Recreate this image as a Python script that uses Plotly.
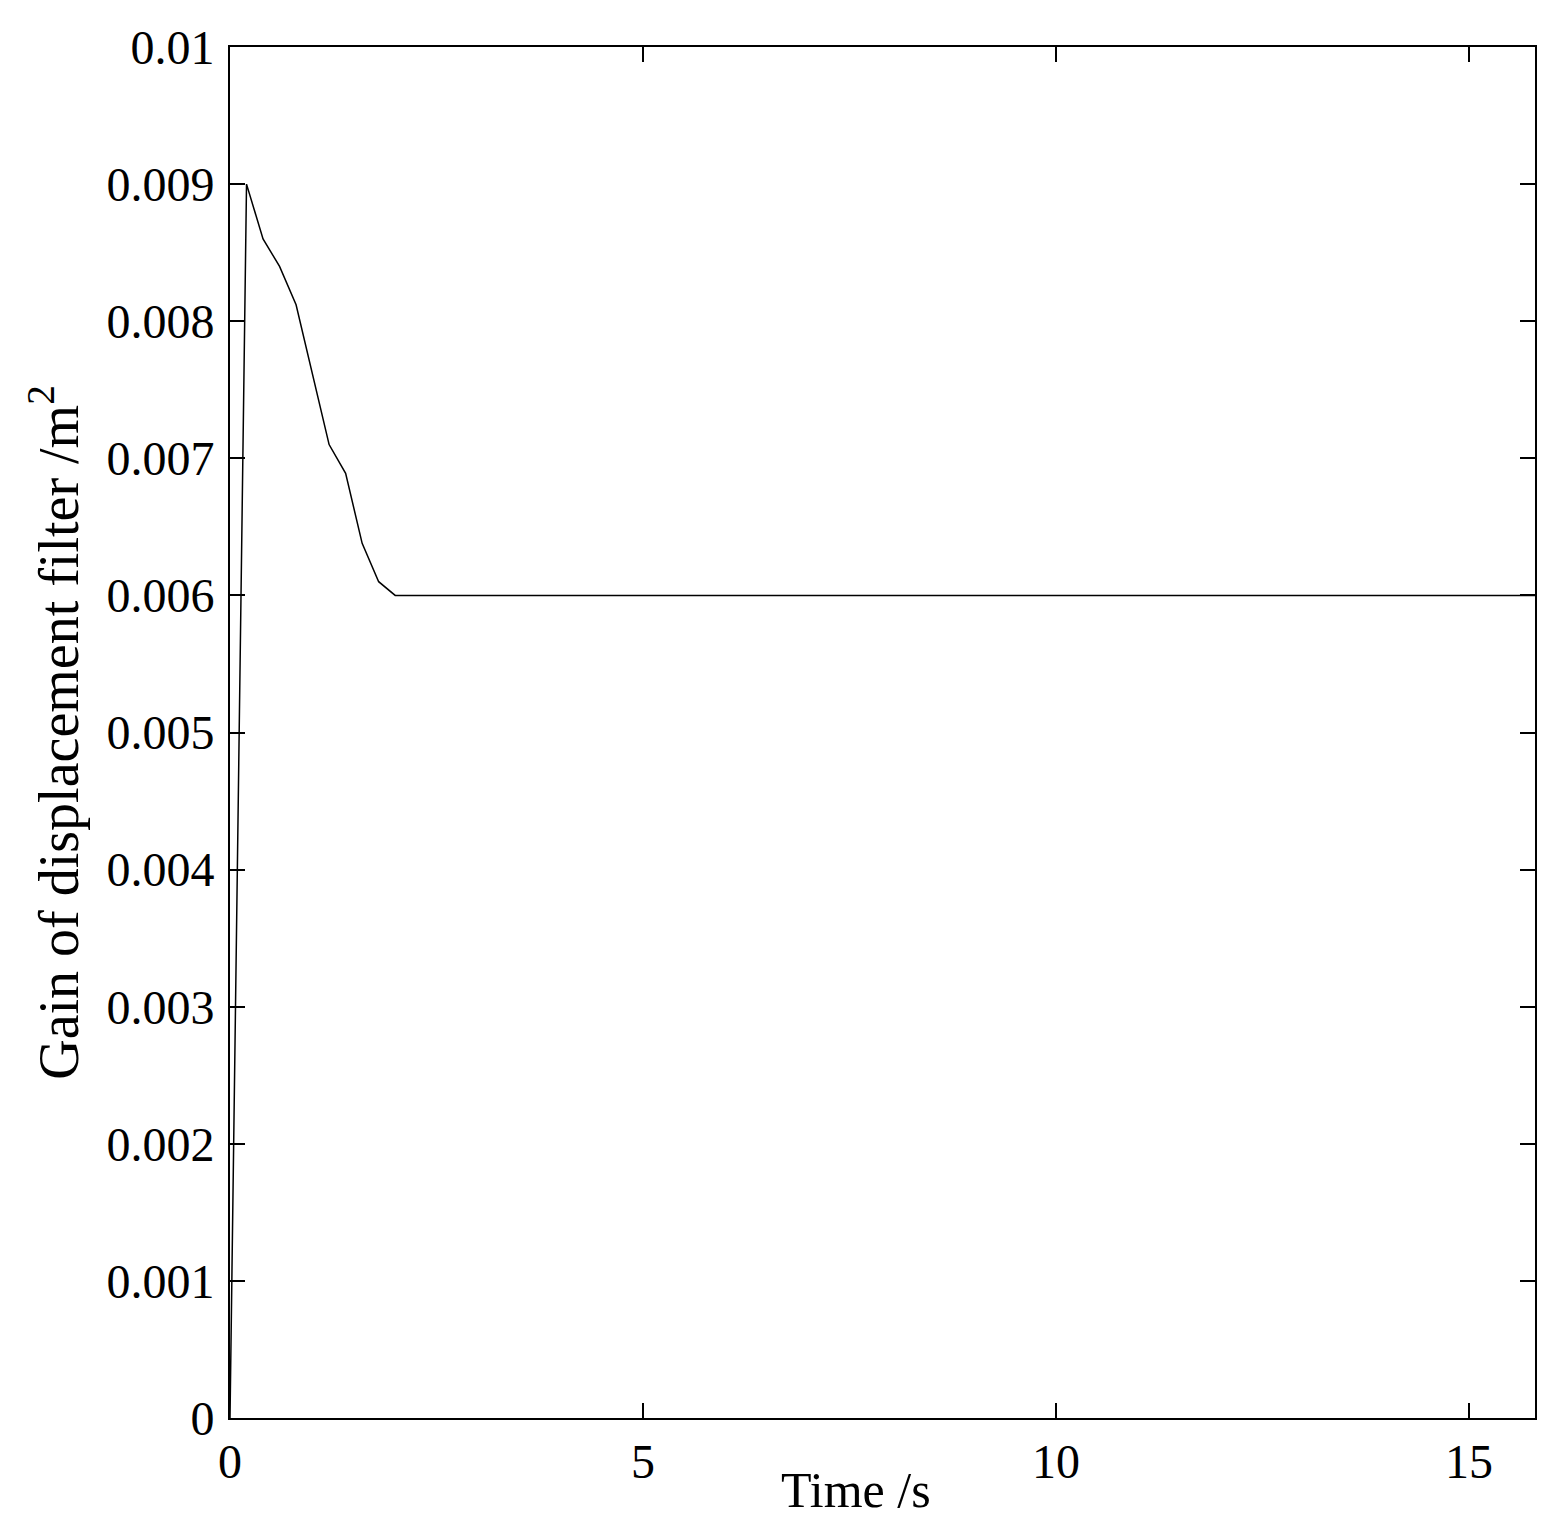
import plotly.graph_objects as go

time_s = [0, 0.2, 0.4, 0.6, 0.8, 1.0, 1.2, 1.4, 1.6, 1.8, 2.0, 15.8]
gain = [0, 0.009, 0.0086, 0.0084, 0.00812, 0.0076, 0.0071, 0.00689, 0.00638, 0.0061, 0.006, 0.006]

x_ticks = [0, 5, 10, 15]
x_ticktext = ["0", "5", "10", "15"]
y_ticks = [0, 0.001, 0.002, 0.003, 0.004, 0.005, 0.006, 0.007, 0.008, 0.009, 0.01]
y_ticktext = ["0", "0.001", "0.002", "0.003", "0.004", "0.005", "0.006", "0.007", "0.008", "0.009", "0.01"]
x_title = "Time /s"
y_title = "Gain of displacement filter /m<sup>2</sup>"

font_family = "Liberation Serif, Times New Roman, serif"

fig = go.Figure()
fig.add_trace(go.Scatter(x=time_s, y=gain, mode="lines",
                         line=dict(color="black", width=1.5), showlegend=False))

axis_common = dict(
    showline=True, linecolor="black", linewidth=2, mirror="allticks",
    ticks="inside", ticklen=15, tickwidth=1.5, tickcolor="black",
    showgrid=False, zeroline=False, automargin=False,
    tickfont=dict(family=font_family, size=48, color="black"),
)

fig.update_layout(
    width=1550, height=1509,
    margin=dict(l=222, r=23, t=39, b=99),
    paper_bgcolor="white", plot_bgcolor="white",
    font=dict(family=font_family, color="black"),
    xaxis=dict(range=[0, 15.8], tickvals=x_ticks, ticktext=x_ticktext,
               ticklabelstandoff=0, **axis_common),
    yaxis=dict(range=[0, 0.01], tickvals=y_ticks, ticktext=y_ticktext,
               title=dict(text=y_title,
                          font=dict(family=font_family, size=56, color="black"), standoff=10),
               ticklabelstandoff=4, **axis_common),
    annotations=[dict(text=x_title, xref="paper", yref="paper", x=0.48, y=0,
                      xanchor="center", yanchor="top", yshift=-42, showarrow=False,
                      font=dict(family=font_family, size=50, color="black"))],
)

fig.write_html("out.html")
